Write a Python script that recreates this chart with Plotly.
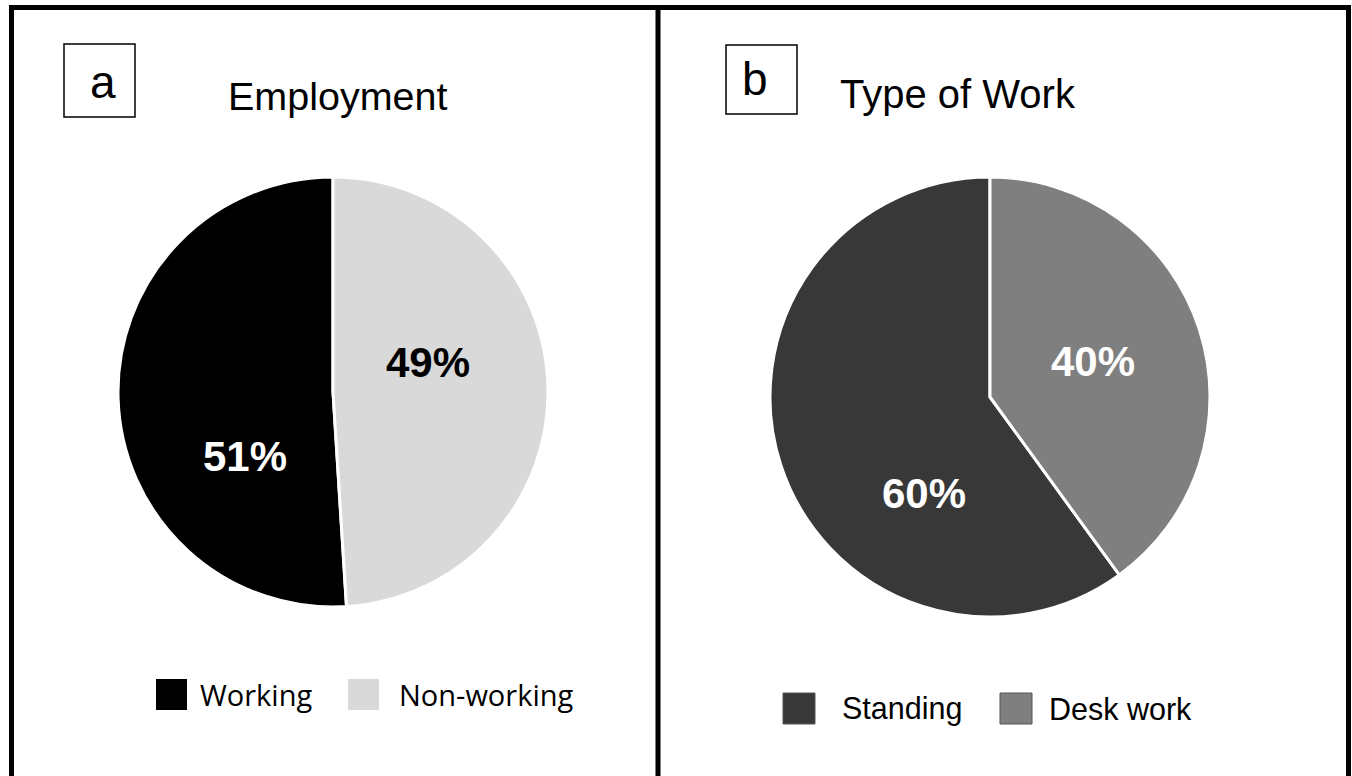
import plotly.graph_objects as go

# ---- data ----
emp_title = "Employment"
emp_labels = ["Working", "Non-working"]
emp_values = [51, 49]
emp_colors = ["#000000", "#d9d9d9"]
emp_text_colors = ["#ffffff", "#000000"]

work_title = "Type of Work"
work_labels = ["Standing", "Desk work"]
work_values = [60, 40]
work_colors = ["#383838", "#7f7f7f"]
work_text_colors = ["#ffffff", "#ffffff"]

panel_tags = ["a", "b"]

W, H = 1352, 776
SANS = "Arial, Liberation Sans, sans-serif"


def fx(x):
    return x / W


def fy(y):
    return 1 - y / H


def start_rotation(values):
    # first slice ends at 12 o'clock, laid out to its left
    return -360.0 * values[0] / sum(values)


fig = go.Figure()

# pies
fig.add_trace(go.Pie(
    labels=emp_labels, values=emp_values, sort=False,
    direction="clockwise", rotation=start_rotation(emp_values),
    marker=dict(colors=emp_colors, line=dict(color="white", width=3)),
    textinfo="none", showlegend=False,
    domain=dict(x=[fx(118), fx(548)], y=[fy(607), fy(177)]),
))
fig.add_trace(go.Pie(
    labels=work_labels, values=work_values, sort=False,
    direction="clockwise", rotation=start_rotation(work_values),
    marker=dict(colors=work_colors, line=dict(color="white", width=3)),
    textinfo="none", showlegend=False,
    domain=dict(x=[fx(770), fx(1210)], y=[fy(617), fy(177)]),
))

shapes = []
annotations = []

# frame lines
line_style = dict(color="black", width=5)
shapes.append(dict(type="line", xref="paper", yref="paper", x0=fx(9), x1=fx(1351), y0=fy(7.5), y1=fy(7.5), line=line_style))
shapes.append(dict(type="line", xref="paper", yref="paper", x0=fx(11.5), x1=fx(11.5), y0=fy(5), y1=fy(776), line=line_style))
shapes.append(dict(type="line", xref="paper", yref="paper", x0=fx(1348.5), x1=fx(1348.5), y0=fy(5), y1=fy(776), line=line_style))
shapes.append(dict(type="line", xref="paper", yref="paper", x0=fx(658), x1=fx(658), y0=fy(5), y1=fy(776), line=line_style))

# panel tag boxes
tag_boxes = [(64, 44, 135, 117), (726, 45, 797, 114)]
tag_offsets = [(3, 2), (-7, 0)]
for tag, (x0, y0, x1, y1), (ox, oy) in zip(panel_tags, tag_boxes, tag_offsets):
    shapes.append(dict(type="rect", xref="paper", yref="paper", x0=fx(x0), x1=fx(x1), y0=fy(y1), y1=fy(y0),
                       line=dict(color="black", width=1.5)))
    annotations.append(dict(text=tag, xref="paper", yref="paper", x=fx((x0 + x1) / 2 + ox), y=fy((y0 + y1) / 2 + oy),
                            xanchor="center", yanchor="middle", showarrow=False,
                            font=dict(family=SANS, size=46, color="black")))

# titles
annotations.append(dict(text=emp_title, xref="paper", yref="paper", x=fx(338), y=fy(95.5),
                        xanchor="center", yanchor="middle", showarrow=False,
                        font=dict(family=SANS, size=39.5, color="black")))
annotations.append(dict(text=work_title, xref="paper", yref="paper", x=fx(957.5), y=fy(93.5),
                        xanchor="center", yanchor="middle", showarrow=False,
                        font=dict(family=SANS, size=40, color="black")))

# percentage labels
emp_label_pos = [(245, 456), (428, 362)]
work_label_pos = [(924, 493), (1093, 361)]
for vals, cols, pos in [(emp_values, emp_text_colors, emp_label_pos), (work_values, work_text_colors, work_label_pos)]:
    for v, c, (x, y) in zip(vals, cols, pos):
        annotations.append(dict(text=f"<b>{v}%</b>", xref="paper", yref="paper", x=fx(x), y=fy(y),
                                xanchor="center", yanchor="middle", showarrow=False,
                                font=dict(family=SANS, size=42, color=c)))

# legends (custom swatches)
emp_legend = [(156, 679, 200), (348, 679, 399)]
for lab, col, (sx, sy, tx) in zip(emp_labels, emp_colors, emp_legend):
    shapes.append(dict(type="rect", xref="paper", yref="paper", x0=fx(sx), x1=fx(sx + 31), y0=fy(sy + 31), y1=fy(sy),
                       line=dict(width=0), fillcolor=col))
    annotations.append(dict(text=lab, xref="paper", yref="paper", x=fx(tx - 2), y=fy(sy + 15.5),
                            xanchor="left", yanchor="middle", showarrow=False,
                            font=dict(family="Open Sans", size=29, color="black")))

work_legend = [(783, 693, 842), (1000, 693, 1049)]
for lab, col, (sx, sy, tx) in zip(work_labels, work_colors, work_legend):
    shapes.append(dict(type="rect", xref="paper", yref="paper", x0=fx(sx), x1=fx(sx + 32), y0=fy(sy + 31), y1=fy(sy),
                       line=dict(width=1, color="#555555"), fillcolor=col))
    annotations.append(dict(text=lab, xref="paper", yref="paper", x=fx(tx - 2), y=fy(sy + 15.5),
                            xanchor="left", yanchor="middle", showarrow=False,
                            font=dict(family=SANS, size=30.5, color="black")))

fig.update_layout(
    width=W, height=H,
    margin=dict(l=0, r=0, t=0, b=0),
    paper_bgcolor="white", plot_bgcolor="white",
    shapes=shapes, annotations=annotations,
)

fig.write_html(
    "out.html",
    config={"displayModeBar": False},
    post_script="document.body.style.margin='0';document.body.style.overflow='hidden';",
)
